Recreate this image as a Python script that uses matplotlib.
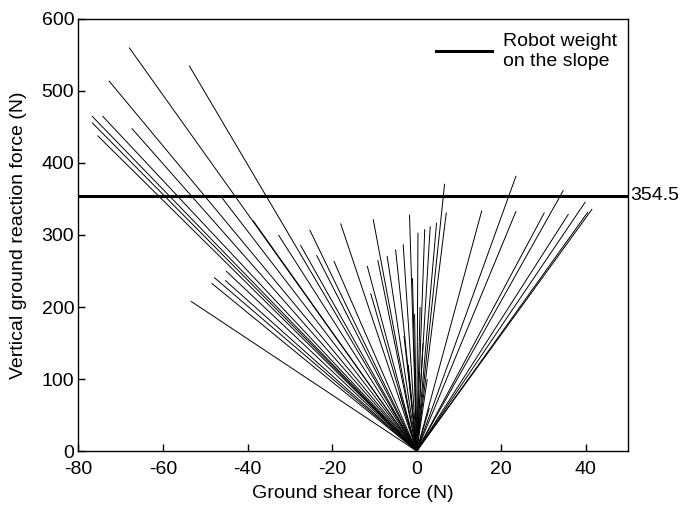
import matplotlib
matplotlib.use("Agg")
import matplotlib.pyplot as plt

plt.rcParams['font.family'] = ['Liberation Sans', 'DejaVu Sans']
plt.rcParams['axes.unicode_minus'] = False

# End points of the ground reaction force vectors (start at origin)
shear_force = [-68.0, -53.8, -72.8, -76.8, -74.3, -76.8, -75.5, -67.4, -46.1, -38.7,
               -32.7, -27.5, -25.3, -23.7, -19.6, -18.0, -10.3, -11.7, -10.9, -9.2,
               -7.0, -5.0, -3.2, -1.7, -53.4, -47.9, -48.5, -45.1, -45.3,
               0.3, 1.9, 3.2, 4.7, 6.6, 7.0, 15.4, 23.5, 23.5, 30.2,
               34.7, 35.9, 39.9, 40.5, 41.5,
               -0.5, 1.5, -2.0, -4.0, 2.5, 3.0, -6.0, -1.0, 0.8, -3.0]
vertical_force = [560, 535, 514, 465, 465, 456, 438, 448, 352, 320,
                  300, 286, 307, 272, 264, 316, 322, 257, 219, 265,
                  271, 280, 287, 328, 208, 241, 233, 250, 237,
                  303, 308, 312, 317, 371, 331, 334, 382, 333, 331,
                  362, 329, 346, 332, 336,
                  190, 150, 120, 80, 100, 60, 60, 240, 200, 160]
robot_weight = 354.5

xticks = [-80, -60, -40, -20, 0, 20, 40]
yticks = [0, 100, 200, 300, 400, 500, 600]

FS = 14

fig = plt.figure(figsize=(6.82, 5.08), dpi=100)
ax = fig.add_axes([0.115, 0.112, 0.806, 0.851])

for sx, vy in zip(shear_force, vertical_force):
    ax.plot([0, sx], [0, vy], color='black', lw=0.7, solid_capstyle='butt')

wline = ax.axhline(robot_weight, color='black', lw=2.2)

ax.set_xlim(-80, 50)
ax.set_ylim(0, 600)
ax.set_xticks(xticks)
ax.set_yticks(yticks)
ax.tick_params(direction='in', length=5, width=1, labelsize=FS)
ax.tick_params(axis='x', pad=7)
ax.tick_params(axis='y', pad=3)
for s in ax.spines.values():
    s.set_linewidth(1.0)

ax.set_xlabel('Ground shear force (N)', fontsize=FS, labelpad=5)
ax.set_ylabel('Vertical ground reaction force (N)', fontsize=FS)
ax.yaxis.set_label_coords(-0.094, 0.5)

ax.text(1.004, robot_weight, '354.5', transform=ax.get_yaxis_transform(),
        ha='left', va='center', fontsize=FS)

leg = ax.legend([wline], ['Robot weight\non the slope'], loc='upper left',
                bbox_to_anchor=(0.636, 0.985), frameon=False, fontsize=FS,
                handlelength=2.9, handletextpad=0.55, borderaxespad=0,
                labelspacing=0.2)

fig.savefig('out.png', dpi=100)
